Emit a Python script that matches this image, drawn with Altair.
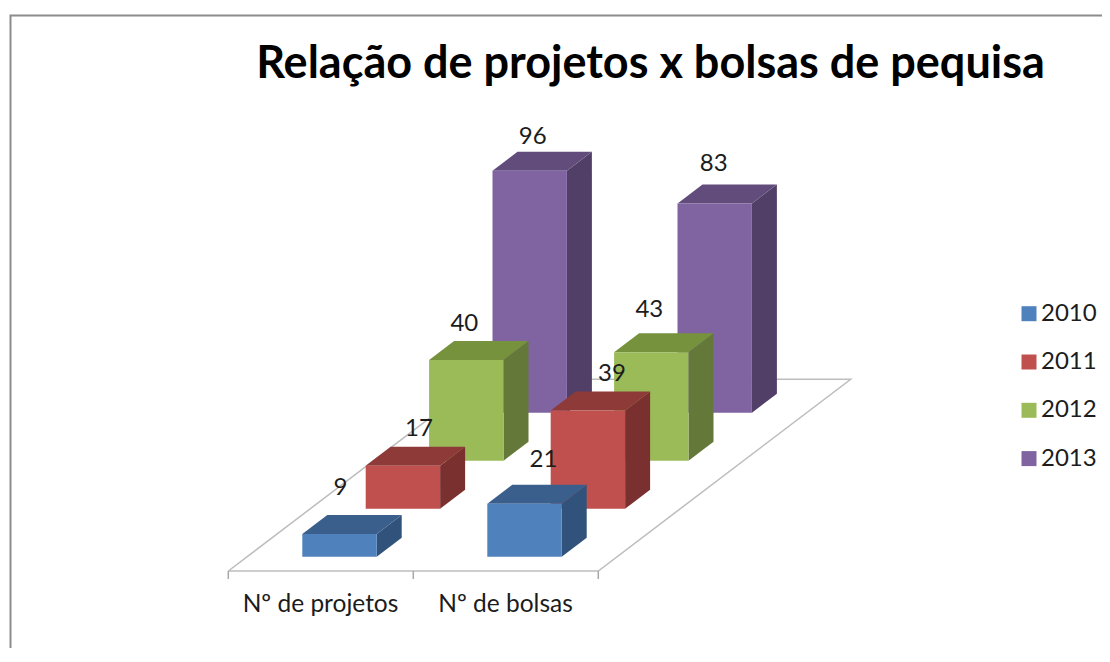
import altair as alt
import pandas as pd

title = "Relação de projetos x bolsas de pequisa"
categories = ["Nº de projetos", "Nº de bolsas"]
years = ["2010", "2011", "2012", "2013"]
projetos = [9, 17, 40, 96]
bolsas = [21, 39, 43, 83]
series = [projetos, bolsas]

front = ["#4f81bd", "#c0504d", "#9bbb59", "#8064a2"]
side = ["#31527a", "#7a302e", "#64783a", "#523f68"]
top = ["#3a5f8c", "#8e3a38", "#76923c", "#624c7c"]

FONT = "Lato"
TXT = "#1c1c1c"
GRID = "#bdbdbd"
W, H = 1094, 640

# oblique projection of (category, year, value)
X0, Y0, BW, DXY, DYY, DXC, K, DX, DY = 302.3, 556.7, 74.4, 63.4, 48.0, 185.0, 2.52, 25.0, 19.0
FX, FY = 228.3, 571.0
FXR = 598.3
BX, BY = 480.7, 379.3
BXR = 850.7

xs = alt.Scale(domain=[8, 8 + W], range=[0, W], nice=False, zero=False)
ys = alt.Scale(domain=[8, 8 + H], range=[0, H], nice=False, zero=False, reverse=False)
def X(f="x"): return alt.X(f"{f}:Q", scale=xs, axis=None)
def Y(f="y"): return alt.Y(f"{f}:Q", scale=ys, axis=None)

def polyline(points, color, width):
    d = pd.DataFrame(points, columns=["x", "y"]).assign(o=range(len(points)))
    return alt.Chart(d).mark_line(color=color, strokeWidth=width, clip=True).encode(
        x=X(), y=Y(), order="o:Q")

layers = [
    polyline([(10.5, 662), (10.5, 15.5), (1110, 15.5)], "#8c8c8c", 2),
    polyline([(FX, FY), (BX, BY), (BXR, BY), (FXR, FY), (FX, FY)], GRID, 1.5),
]
ticks = pd.DataFrame({"x": [FX, FX + 185, FXR], "y": [FY] * 3, "y2": [FY + 8] * 3})
layers.append(alt.Chart(ticks).mark_rule(color="#a8a8a8", strokeWidth=1.5).encode(
    x=X(), y=Y(), y2="y2:Q"))

label_off = {
    (0, 0): (1, -46), (0, 1): (16, -37), (0, 2): (-2, -36), (0, 3): (3, -34),
    (1, 0): (19, -44), (1, 1): (24, -36), (1, 2): (-2, -42), (1, 3): (-1, -40),
}

for yi in reversed(range(4)):
    for ci in range(2):
        v = series[ci][yi]
        x1 = X0 + ci * DXC + yi * DXY
        x2 = x1 + BW
        yb = Y0 - yi * DYY
        yt = yb - v * K
        sd = pd.DataFrame({"x": [x2, x2 + DX], "y": [yb, yb - DY], "y2": [yt, yt - DY]})
        layers.append(alt.Chart(sd).mark_area(color=side[yi]).encode(x=X(), y=Y(), y2="y2:Q"))
        tp = pd.DataFrame({"y": [yt, yt - DY], "x": [x1, x1 + DX], "x2": [x2, x2 + DX]})
        layers.append(alt.Chart(tp).mark_area(color=top[yi], orient="horizontal").encode(
            y=Y(), x=X(), x2="x2:Q"))
        fr = pd.DataFrame({"x": [x1], "x2": [x2], "y": [yb], "y2": [yt], "ano": [years[yi]]})
        layers.append(alt.Chart(fr).mark_rect().encode(
            x=X(), x2="x2:Q", y=Y(), y2="y2:Q",
            color=alt.Color("ano:N", scale=alt.Scale(domain=years, range=front),
                            legend=alt.Legend(
                                orient="none", legendX=1009, legendY=293.7, title=None,
                                symbolType="square", symbolSize=225, symbolStrokeWidth=0,
                                labelFont=FONT, labelFontSize=24, labelColor=TXT,
                                labelOffset=0, rowPadding=24.3))))

for yi in range(4):
    for ci in range(2):
        v = series[ci][yi]
        cx = X0 + ci * DXC + yi * DXY + BW / 2
        yt = Y0 - yi * DYY - v * K
        ox, oy = label_off[(ci, yi)]
        d = pd.DataFrame({"x": [cx], "y": [yt], "t": [str(v)]})
        layers.append(alt.Chart(d).mark_text(
            font=FONT, fontSize=24, color=TXT, dx=ox, dy=oy, align="center", baseline="middle"
        ).encode(x=X(), y=Y(), text="t:N"))

cat_lab = pd.DataFrame({"x": [320.5, 505.5], "y": [605, 605], "t": categories})
layers.append(alt.Chart(cat_lab).mark_text(
    font=FONT, fontSize=24.5, color=TXT, align="center", baseline="middle"
).encode(x=X(), y=Y(), text="t:N"))

tl = pd.DataFrame({"x": [650.5], "y": [63.5], "t": [title]})
layers.append(alt.Chart(tl).mark_text(
    font=FONT, fontSize=45, fontWeight="bold", color="#000000", align="center", baseline="middle"
).encode(x=X(), y=Y(), text="t:N"))

chart = alt.layer(*layers).properties(
    width=W, height=H, padding=0, background="#ffffff",
    autosize=alt.AutoSizeParams(type="none"),
).configure_view(stroke=None)

chart.save("out.html", embed_options={"renderer": "svg", "actions": False})
